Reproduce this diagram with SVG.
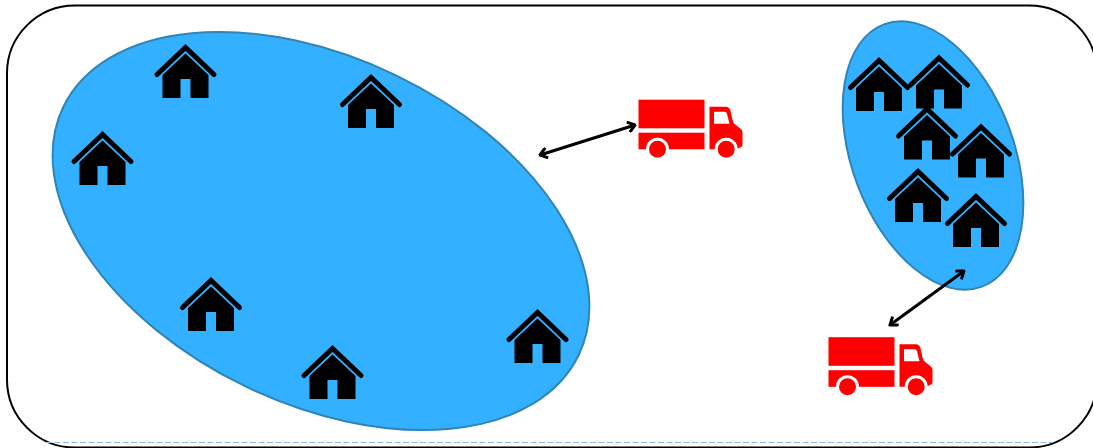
<svg xmlns="http://www.w3.org/2000/svg" width="1093" height="448" viewBox="0 0 1093 448">
<style>
.frame{fill:#fff;stroke:#000;stroke-width:2}
.zone{fill:#33b0ff;stroke:#2f85b5;stroke-width:2}
.conn{fill:none;stroke:#000;stroke-width:3;marker-start:url(#ah);marker-end:url(#ah)}
.roof{fill:none;stroke:#000;stroke-width:5;stroke-linecap:round;stroke-linejoin:miter}
.red{fill:#f00}
.cut{fill:#f00;stroke:#fff;stroke-width:3}
</style>
<defs>
<marker id="ah" viewBox="0 0 12 12" refX="10.500" refY="6" markerWidth="12" markerHeight="12" markerUnits="userSpaceOnUse" orient="auto-start-reverse">
<path d="M3.500 0.800L10.500 6L3.500 11.200" fill="none" stroke="#000" stroke-width="3"/>
</marker>
<g id="house">
<polyline class="roof" points="-28.500,30.500 0,3.500 28.500,30.500"/>
<path d="M0 9.500L23 31V54H5V35H-5V54H-23V31Z"/>
</g>
<g id="truck">
<rect class="red" x="0" y="0" width="66" height="28.600"/>
<rect class="red" x="0" y="33" width="66" height="16.600"/>
<path class="red" d="M71 7H87Q91 7 92 11L94 20Q94.500 23 97 25L102 29Q104 30 104 33V45Q104 47 102 47.500L98 49.600H71Z"/>
<path d="M75.500 12H86Q88 12 88.500 14L91 24H75.500Z" fill="#fff"/>
<circle class="cut" cx="19" cy="49.500" r="10"/>
<circle class="cut" cx="87.700" cy="49.500" r="10"/>
</g>
</defs>
<rect id="frame" class="frame" x="7" y="5.500" width="1090" height="442" rx="68" ry="68"/>
<line id="page-edge" x1="46" y1="442.500" x2="1053" y2="442.500" stroke="#8fb4ec" stroke-width="1" stroke-dasharray="6 2.500"/>
<ellipse id="zone-left" class="zone" cx="321" cy="231" rx="286" ry="172.800" transform="rotate(25.700 321 231)"/>
<ellipse id="zone-right" class="zone" cx="933" cy="155.500" rx="140" ry="81" transform="rotate(69.500 933 155.500)"/>
<g id="connectors">
<line class="conn" x1="540" y1="155" x2="635" y2="125"/>
<line class="conn" x1="890" y1="325" x2="964" y2="271"/>
</g>
<g id="house-1"><use href="#house" x="185.500" y="44"/></g>
<g id="house-2"><use href="#house" x="371" y="74"/></g>
<g id="house-3"><use href="#house" x="102.500" y="131"/></g>
<g id="house-4"><use href="#house" x="211" y="277"/></g>
<g id="house-5"><use href="#house" x="332.500" y="345"/></g>
<g id="house-6"><use href="#house" x="537.500" y="309"/></g>
<g id="house-7"><use href="#house" x="879" y="57"/></g>
<g id="house-8"><use href="#house" x="939" y="54.500"/></g>
<g id="house-9"><use href="#house" x="927" y="105.500"/></g>
<g id="house-10"><use href="#house" x="981" y="123.500"/></g>
<g id="house-11"><use href="#house" x="918" y="168"/></g>
<g id="house-12"><use href="#house" x="976" y="193"/></g>
<g id="truck-1"><use href="#truck" x="638.500" y="99.700"/></g>
<g id="truck-2"><use href="#truck" x="828.500" y="337.200"/></g>
</svg>
